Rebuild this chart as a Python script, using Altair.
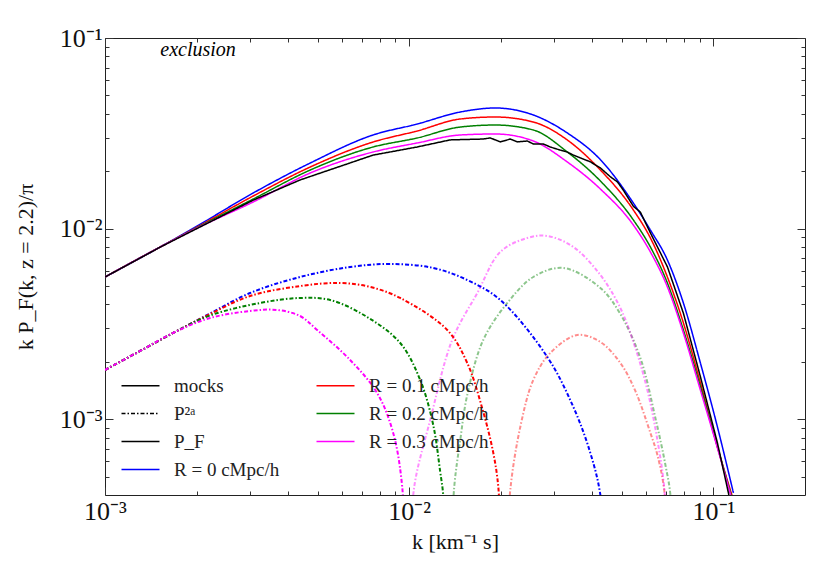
import altair as alt
import pandas as pd

# ---------------- data ----------------
R_LABELS = ["R = 0 cMpc/h", "R = 0.1 cMpc/h", "R = 0.2 cMpc/h", "R = 0.3 cMpc/h"]

# full flux power P_F for each smoothing radius R
k_model = [0.001, 0.00152, 0.00201, 0.00307, 0.00473, 0.00761, 0.01062, 0.01472,
           0.01919, 0.02558, 0.03309, 0.04250, 0.05455, 0.06205, 0.07059, 0.07966,
           0.09062, 0.10309, 0.11636]
pf_r0 = [0.00557, 0.00801, 0.01032, 0.01537, 0.02209, 0.03099, 0.03537, 0.04089,
         0.04292, 0.03945, 0.03175, 0.02300, 0.01362, 0.00983, 0.00684, 0.00407,
         0.00197, 0.000910, 0.000410]
pf_r1 = [0.00557, 0.00801, 0.01019, 0.01482, 0.02105, 0.02847, 0.03252, 0.03758,
         0.03850, 0.03624, 0.02917, 0.02030, 0.01252, 0.00893, 0.00557, 0.00320,
         0.00155, 0.000715, 0.000377]
pf_r2 = [0.00557, 0.00801, 0.01013, 0.01429, 0.02030, 0.02680, 0.02988, 0.03411,
         0.03494, 0.03291, 0.02523, 0.01777, 0.01110, 0.00801, 0.00518, 0.00294,
         0.00148, 0.000715, 0.000363]
pf_r3 = [0.00557, 0.00801, 0.01007, 0.01379, 0.01958, 0.02523, 0.02813, 0.03099,
         0.03136, 0.02882, 0.02236, 0.01613, 0.01044, 0.00754, 0.00494, 0.00283,
         0.00142, 0.000706, 0.000355]

# mocks
k_mocks = [0.001, 0.00152, 0.00307, 0.00438, 0.00761, 0.01062, 0.01364, 0.01751,
           0.01847, 0.01992, 0.02149, 0.02266, 0.02444, 0.02558, 0.02759, 0.02909,
           0.03138, 0.03309, 0.03463, 0.03651, 0.03939, 0.04250, 0.04584, 0.04833,
           0.05057, 0.05455, 0.05752, 0.06205, 0.07059, 0.07966, 0.09062, 0.10309,
           0.11203, 0.118]
p_mocks = [0.00557, 0.0080, 0.0141, 0.0180, 0.0243, 0.0268, 0.0292, 0.0295,
           0.0299, 0.0285, 0.0295, 0.0285, 0.0288, 0.0278, 0.0278, 0.0268,
           0.0258, 0.0252, 0.0243, 0.0235, 0.0224, 0.0208, 0.0187, 0.0176,
           0.0159, 0.0131, 0.0122, 0.0095, 0.0063, 0.0036, 0.00167, 0.00075,
           0.00041, 0.00025]

# P^{2a} term (positive part)
k_p2a_r0 = [0.001, 0.001304, 0.001699, 0.002215, 0.002999, 0.004378, 0.006394, 0.008659,
            0.011992, 0.015515, 0.019921, 0.028438, 0.034634, 0.039389, 0.042495, 0.0435]
p2a_r0 = [0.001811, 0.002279, 0.002867, 0.003585, 0.004592, 0.005571, 0.006288, 0.006522,
          0.006213, 0.005373, 0.004221, 0.002120, 0.001159, 0.000665, 0.000400, 0.0002]
k_p2a_r1 = [0.001, 0.001304, 0.001699, 0.002215, 0.002999, 0.004378, 0.005929, 0.007441,
            0.009341, 0.013335, 0.015515, 0.017514, 0.018897, 0.019627, 0.0200]
p2a_r1 = [0.001811, 0.002279, 0.002867, 0.003562, 0.004429, 0.004996, 0.005184, 0.004939,
          0.004324, 0.002938, 0.001972, 0.001091, 0.000665, 0.000441, 0.0002]
k_p2a_r2 = [0.001, 0.001304, 0.001699, 0.002215, 0.003235, 0.004378, 0.005497, 0.007273,
            0.009341, 0.010867, 0.011992, 0.012647, 0.012935, 0.01313]
p2a_r2 = [0.001811, 0.002279, 0.002867, 0.003499, 0.004071, 0.004324, 0.004221, 0.003436,
          0.002510, 0.001605, 0.000933, 0.000528, 0.000400, 0.0002]
k_p2a_r3 = [0.001, 0.001304, 0.001699, 0.002215, 0.002999, 0.003679, 0.004378, 0.004981,
            0.006394, 0.007844, 0.008858, 0.009484, 0.00965]
p2a_r3 = [0.001811, 0.002279, 0.002867, 0.003395, 0.003695, 0.003740, 0.003478, 0.002938,
          0.002045, 0.001372, 0.000847, 0.000441, 0.0002]

# |P^{2a}| where it is negative (faded)
k_neg_r1 = [0.0210, 0.021489, 0.023180, 0.025577, 0.029092, 0.035697, 0.042495, 0.049429,
            0.055383, 0.062054, 0.065440, 0.069010, 0.0701]
neg_r1 = [0.0002, 0.000425, 0.000910, 0.001605, 0.002225, 0.002765, 0.002541, 0.001972,
          0.001406, 0.000847, 0.000649, 0.000415, 0.0002]
k_neg_r2 = [0.01374, 0.014060, 0.014716, 0.015515, 0.017514, 0.021013, 0.025577, 0.032105,
            0.042495, 0.049429, 0.057522, 0.064454, 0.069536, 0.072210, 0.0728]
neg_r2 = [0.0002, 0.000441, 0.000778, 0.001340, 0.002603, 0.004071, 0.005571, 0.006213,
          0.004880, 0.003562, 0.002095, 0.001015, 0.000575, 0.000400, 0.0002]
k_neg_r3 = [0.0101, 0.010385, 0.011723, 0.013848, 0.016740, 0.019921, 0.024444, 0.028438,
            0.034634, 0.042495, 0.049429, 0.055383, 0.060653, 0.065440, 0.069010, 0.0701]
neg_r3 = [0.0002, 0.000441, 0.000990, 0.002603, 0.004592, 0.007538, 0.008927, 0.009146,
          0.008008, 0.005709, 0.003832, 0.002363, 0.001422, 0.000778, 0.000425, 0.0002]

# legend entries (filled column by column, 4 rows)
LEG_ORDER = ["mocks", "P²ᵃ", "P_F", "R = 0 cMpc/h",
             "R = 0.1 cMpc/h", "R = 0.2 cMpc/h", "R = 0.3 cMpc/h"]
LEG_COLORS = ["#000000", "#000000", "#000000", "#0000ff", "#ff0000", "#008000", "#ff00ff"]
DASHDOT = [4, 2, 1.5, 2]
LEG_DASHES = [[1, 0], DASHDOT, [1, 0], [1, 0], [1, 0], [1, 0], [1, 0]]

X_MAJOR = [0.001, 0.01, 0.1]
X_MINOR = [0.002, 0.003, 0.004, 0.005, 0.006, 0.007, 0.008, 0.009,
           0.02, 0.03, 0.04, 0.05, 0.06, 0.07, 0.08, 0.09]
Y_MAJOR = [0.001, 0.01, 0.1]
Y_MINOR = [0.0005, 0.0006, 0.0007, 0.0008, 0.0009,
           0.002, 0.003, 0.004, 0.005, 0.006, 0.007, 0.008, 0.009,
           0.02, 0.03, 0.04, 0.05, 0.06, 0.07, 0.08, 0.09]

annot_k = [0.00152]
annot_p = [0.087]
annot_text = ["exclusion"]

# ---------------- tables ----------------
def frame(ks, ps, leg):
    return pd.DataFrame({"k": ks, "P": ps, "leg": leg})

df_pf = pd.concat([frame(k_model, v, lab) for v, lab in
                   zip([pf_r0, pf_r1, pf_r2, pf_r3], R_LABELS)])
df_mocks = frame(k_mocks, p_mocks, "mocks")
df_p2a = pd.concat([frame(k_p2a_r0, p2a_r0, R_LABELS[0]), frame(k_p2a_r1, p2a_r1, R_LABELS[1]),
                    frame(k_p2a_r2, p2a_r2, R_LABELS[2]), frame(k_p2a_r3, p2a_r3, R_LABELS[3])])
df_neg = pd.concat([frame(k_neg_r1, neg_r1, R_LABELS[1]), frame(k_neg_r2, neg_r2, R_LABELS[2]),
                    frame(k_neg_r3, neg_r3, R_LABELS[3])])
df_txt = pd.DataFrame({"k": annot_k, "P": annot_p, "t": annot_text})

# ---------------- styling ----------------
SERIF = "Liberation Serif"
X_SCALE = alt.Scale(type="log", domain=[0.001, 0.2], nice=False)
Y_SCALE = alt.Scale(type="log", domain=[0.0004, 0.1], nice=False)
TICK_COLOR = "#333333"

LABEL_EXPR = ("datum.value < 0.0015 ? '10⁻³' : datum.value < 0.015 ? '10⁻²' : '10⁻¹'")

def label_axis(orient, title, tpad):
    return alt.Axis(orient=orient, values=X_MAJOR, ticks=False, domain=False, grid=False,
                    labelExpr=LABEL_EXPR, labelFont=SERIF, labelFontSize=26,
                    labelColor="#111111", labelPadding=3, labelFlush=False,
                    labelOverlap=False, labelBound=False,
                    title=title, titleFont=SERIF, titleFontSize=22,
                    titleFontWeight="normal", titleColor="#111111", titlePadding=tpad)

def tick_axis(orient, values, size):
    return alt.Axis(orient=orient, values=values, labels=False, domain=False, grid=False,
                    title=None, ticks=True, tickSize=size, offset=-size,
                    tickColor=TICK_COLOR, tickWidth=1)

# wide line handle drawn with a small symbol size (keeps rows tight)
legend = alt.Legend(orient="none", legendX=25, legendY=337, columns=2, title=None,
                    symbolType="M-2,0H2", symbolSize=361, symbolStrokeWidth=1.5,
                    symbolOpacity=1, labelFont=SERIF, labelFontSize=19,
                    labelColor="#222222", labelOffset=23, columnPadding=33,
                    rowPadding=7, padding=0, labelLimit=300)

color_enc = alt.Color("leg:N", scale=alt.Scale(domain=LEG_ORDER, range=LEG_COLORS),
                      legend=legend)
dash_enc = alt.StrokeDash("leg:N", scale=alt.Scale(domain=LEG_ORDER, range=LEG_DASHES),
                          legend=legend)

def xy(xaxis, yaxis):
    return dict(x=alt.X("k:Q", scale=X_SCALE, axis=xaxis),
                y=alt.Y("P:Q", scale=Y_SCALE, axis=yaxis))

pf = alt.Chart(df_pf).mark_line(clip=True, strokeWidth=1.5, interpolate="monotone").encode(
    **xy(label_axis("bottom", "k [km⁻¹ s]", 7),
         label_axis("left", "k P_F(k, z = 2.2)/π", 22)),
    color=color_enc, strokeDash=dash_enc)

mocks = alt.Chart(df_mocks).mark_line(clip=True, strokeWidth=1.5).encode(
    **xy(tick_axis("top", X_MAJOR, 8), tick_axis("right", Y_MAJOR, 8)),
    color=color_enc, strokeDash=dash_enc)

faded = alt.Chart(df_neg).mark_line(clip=True, strokeWidth=2, interpolate="catmull-rom").encode(
    **xy(tick_axis("bottom", X_MAJOR, 8), tick_axis("left", Y_MAJOR, 8)),
    color=color_enc, strokeDash=alt.value(DASHDOT), opacity=alt.value(0.45))

p2a = alt.Chart(df_p2a).mark_line(clip=True, strokeWidth=2, interpolate="catmull-rom").encode(
    **xy(tick_axis("bottom", X_MINOR, 4), tick_axis("left", Y_MINOR, 4)),
    color=color_enc, strokeDash=alt.value(DASHDOT))

txt = alt.Chart(df_txt).mark_text(align="left", baseline="middle", font=SERIF,
                                  fontSize=20, fontStyle="italic", color="#000000").encode(
    **xy(tick_axis("top", X_MINOR, 4), tick_axis("right", Y_MINOR, 4)),
    text="t:N")

chart = alt.layer(pf, mocks, faded, p2a, txt).resolve_axis(
    x="independent", y="independent"
).properties(
    width=700, height=457,
    autosize=alt.AutoSizeParams(type="none"),
    padding={"left": 97, "top": 30, "right": 18, "bottom": 78},
).configure_view(stroke="#222222", strokeWidth=1)

chart.save("out.html", embed_options={"renderer": "svg", "actions": False})
